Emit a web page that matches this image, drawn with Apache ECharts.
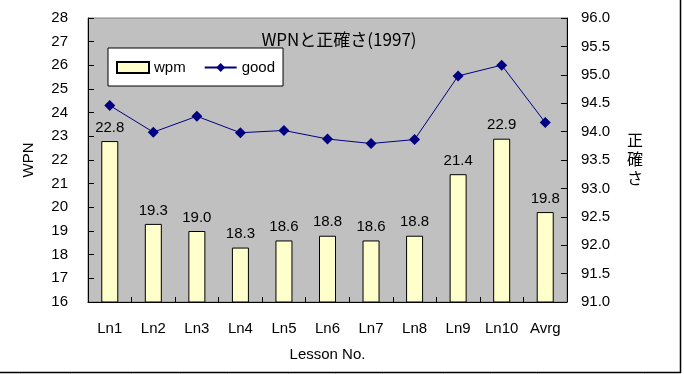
<!DOCTYPE html>
<html>
<head>
<meta charset="utf-8">
<script src="https://cdn.jsdelivr.net/npm/echarts@6/dist/echarts.min.js"></script>
<style>
html,body{margin:0;padding:0;background:#fff;}
#chart{width:684px;height:374px;}
</style>
</head>
<body>
<div id="chart"></div>
<script>
const categories = ['Ln1','Ln2','Ln3','Ln4','Ln5','Ln6','Ln7','Ln8','Ln9','Ln10','Avrg'];
const wpm = [22.8, 19.3, 19.0, 18.3, 18.6, 18.8, 18.6, 18.8, 21.4, 22.9, 19.8];
const good = [94.46, 93.99, 94.27, 93.98, 94.02, 93.87, 93.79, 93.86, 94.98, 95.17, 94.16];
const leftTicks = [16, 28, 1];
const rightTicks = [91, 96, 0.5];

const FONT = '"Liberation Sans", "Noto Sans CJK JP", sans-serif';
const chart = echarts.init(document.getElementById('chart'), null, {renderer: 'canvas'});

const sheetTicks = [20, 70, 131, 180, 227, 288, 335, 382, 443, 490, 537, 644].map(x => ({
  type: 'line', silent: true,
  shape: {x1: x + 0.5, y1: 373, x2: x + 0.5, y2: 374},
  style: {stroke: '#a0a0a0', lineWidth: 1}
}));

chart.setOption({
  animation: false,
  backgroundColor: '#ffffff',
  textStyle: {fontFamily: FONT, color: '#000'},
  title: {
    text: 'WPNと正確さ(1997)',
    left: 334, top: 25, textAlign: 'center',
    textStyle: {fontSize: 17, fontWeight: 'normal', color: '#000', fontFamily: '"Noto Sans CJK JP", sans-serif', lineHeight: 20}
  },
  legend: {
    data: [{name: 'wpm', icon: 'rect'}, {name: 'good'}],
    left: 108, top: 48,
    width: 172,
    padding: [12, 8, 11, 8],
    itemGap: 18,
    itemWidth: 32, itemHeight: 11,
    backgroundColor: '#ffffff',
    borderColor: '#000', borderWidth: 1,
    textStyle: {fontSize: 15, color: '#000', fontFamily: FONT}
  },
  grid: {
    left: 88, right: 117, top: 18, bottom: 72,
    show: true, backgroundColor: '#c0c0c0', borderColor: '#808080', borderWidth: 1
  },
  xAxis: {
    type: 'category',
    data: categories,
    boundaryGap: true,
    name: 'Lesson No.',
    nameLocation: 'middle',
    nameGap: 45,
    nameTextStyle: {fontSize: 15, color: '#000'},
    axisLine: {lineStyle: {color: '#000', width: 1}},
    axisTick: {show: true, inside: true, length: 5, alignWithLabel: false, lineStyle: {color: '#000'}},
    axisLabel: {fontSize: 15, color: '#000', margin: 19, interval: 0}
  },
  yAxis: [{
    type: 'value',
    min: leftTicks[0], max: leftTicks[1], interval: leftTicks[2],
    name: 'WPN', nameLocation: 'middle', nameGap: 52, nameRotate: 90,
    nameTextStyle: {fontSize: 15, color: '#000'},
    axisLine: {show: true, lineStyle: {color: '#000'}},
    axisTick: {show: true, inside: true, length: 6, lineStyle: {color: '#000'}},
    splitLine: {show: false},
    axisLabel: {fontSize: 15, color: '#000', margin: 20}
  }, {
    type: 'value',
    position: 'right',
    min: rightTicks[0], max: rightTicks[1], interval: rightTicks[2],
    axisLine: {show: true, lineStyle: {color: '#000'}},
    axisTick: {show: true, inside: true, length: 6, lineStyle: {color: '#000'}},
    splitLine: {show: false},
    axisLabel: {fontSize: 15, color: '#000', margin: 14, formatter: v => v.toFixed(1)}
  }],
  series: [{
    name: 'wpm',
    type: 'bar',
    data: wpm,
    yAxisIndex: 0,
    barWidth: 17,
    itemStyle: {color: '#ffffcc', borderColor: '#000', borderWidth: 1},
    label: {show: true, position: 'top', distance: 6, fontSize: 15, color: '#000', formatter: p => p.value.toFixed(1), fontFamily: FONT}
  }, {
    name: 'good',
    type: 'line',
    data: good,
    yAxisIndex: 1,
    symbol: 'diamond',
    symbolSize: 11,
    lineStyle: {color: '#000080', width: 1},
    itemStyle: {color: '#000080'}
  }],
  graphic: [
    {type: 'text', left: 627, top: 130, style: {text: '正\n確\nさ', fontSize: 16, lineHeight: 19, fill: '#000', fontFamily: '"Noto Sans CJK JP", sans-serif'}},
    {type: 'line', shape: {x1: 680.5, y1: 0, x2: 680.5, y2: 373}, style: {stroke: '#000', lineWidth: 1.5}},
    {type: 'line', shape: {x1: 0, y1: 372.5, x2: 681, y2: 372.5}, style: {stroke: '#000', lineWidth: 1.5}}
  ].concat(sheetTicks)
});
</script>
</body>
</html>
